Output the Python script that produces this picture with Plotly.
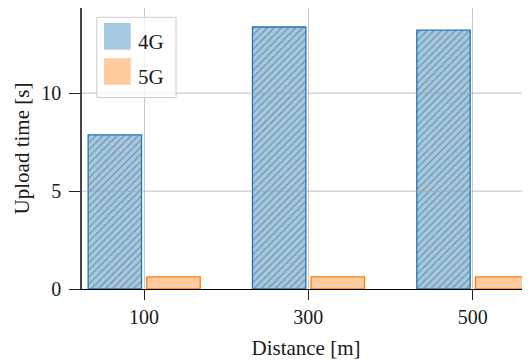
import plotly.graph_objects as go

# ---- data ----
categories = ["100", "300", "500"]
series_names = ["4G", "5G"]
upload_4g = [7.87, 13.38, 13.22]
upload_5g = [0.62, 0.62, 0.62]
y_ticks = [0, 5, 10]

# ---- layout geometry ----
# the page body has an 8px margin; shift everything so the page matches the reference
OFF = 8
W, H = 530 - OFF, 360 - OFF
RL, RT, RR, RB = 82, 8, 530, 289.5          # plot area in reference page pixels
L, T, R, B = RL - OFF, RT - OFF, RR - OFF, RB - OFF


def px_x(px):  # reference page pixel -> paper fraction
    return (px - RL) / (RR - RL)


def px_y(py):
    return (RB - py) / (RB - RT)


FONT = "Liberation Serif, Times New Roman, serif"
TXT = "#1a1a1a"

blue_fill = "rgb(165,201,225)"
blue_edge = "#1f77b4"
orange_fill = "rgb(255,203,159)"
orange_edge = "#ff7f0e"

fig = go.Figure()
fig.add_trace(go.Bar(
    x=categories, y=upload_4g, name=series_names[0],
    width=0.325, offset=-0.34,
    marker=dict(color=blue_fill,
                line=dict(color=blue_edge, width=1.3),
                pattern=dict(shape="/", size=5, solidity=0.25,
                             fgcolor="rgba(35,55,75,0.75)", fillmode="overlay")),
    showlegend=False,
))
fig.add_trace(go.Bar(
    x=categories, y=upload_5g, name=series_names[1],
    width=0.325, offset=0.017,
    marker=dict(color=orange_fill, line=dict(color=orange_edge, width=1.3)),
    showlegend=False,
))

shapes = []
# horizontal grid lines drawn above the bars (as in the reference)
for t in y_ticks[1:]:
    shapes.append(dict(type="line", xref="paper", yref="y", x0=0, x1=1, y0=t, y1=t,
                       line=dict(color="rgba(160,160,160,0.55)", width=1.2), layer="above"))

# legend box with large colour patches
shapes.append(dict(type="rect", xref="paper", yref="paper",
                   x0=px_x(96.7), x1=px_x(176), y0=px_y(97.7), y1=px_y(17.3),
                   fillcolor="rgba(255,255,255,0.8)",
                   line=dict(color="rgba(204,204,204,1)", width=1), layer="above"))
legend_items = [(series_names[0], blue_fill, 23, 49.7, 42),
                (series_names[1], orange_fill, 58.3, 85, 77.5)]
annotations = []
for name, col, y0p, y1p, ty in legend_items:
    shapes.append(dict(type="rect", xref="paper", yref="paper",
                       x0=px_x(104), x1=px_x(130.7), y0=px_y(y1p), y1=px_y(y0p),
                       fillcolor=col, line=dict(width=0), layer="above"))
    annotations.append(dict(xref="paper", yref="paper", x=px_x(136), y=px_y(ty),
                            xanchor="left", yanchor="middle", showarrow=False,
                            text=name, font=dict(family=FONT, size=21, color=TXT)))

fig.update_layout(
    width=W, height=H,
    margin=dict(l=L, r=W - R, t=T, b=H - B, pad=0),
    paper_bgcolor="white", plot_bgcolor="white",
    barmode="overlay",
    font=dict(family=FONT, size=20, color=TXT),
    shapes=shapes, annotations=annotations,
    xaxis=dict(
        type="category", range=[-0.3774, 2.349],
        showgrid=True, gridcolor="rgba(176,176,176,0.7)", gridwidth=1,
        showline=True, linecolor="black", linewidth=1.2, mirror=True,
        ticks="outside", ticklen=10, tickwidth=1.1, tickcolor="#222",
        tickfont=dict(family=FONT, size=20, color=TXT),
        title=dict(text="Distance [m]", font=dict(family=FONT, size=21, color=TXT), standoff=15),
        automargin=False,
    ),
    yaxis=dict(
        range=[0, 14.35], tickvals=y_ticks,
        showgrid=False, zeroline=False,
        showline=True, linecolor="#444", linewidth=1.5,
        ticks="outside", ticklen=11, tickwidth=1.1, tickcolor="#222",
        tickfont=dict(family=FONT, size=20, color=TXT),
        ticklabelstandoff=4,
        title=dict(text="Upload time [s]", font=dict(family=FONT, size=21, color=TXT), standoff=6),
        automargin=False,
    ),
)

fig.write_html("out.html")
